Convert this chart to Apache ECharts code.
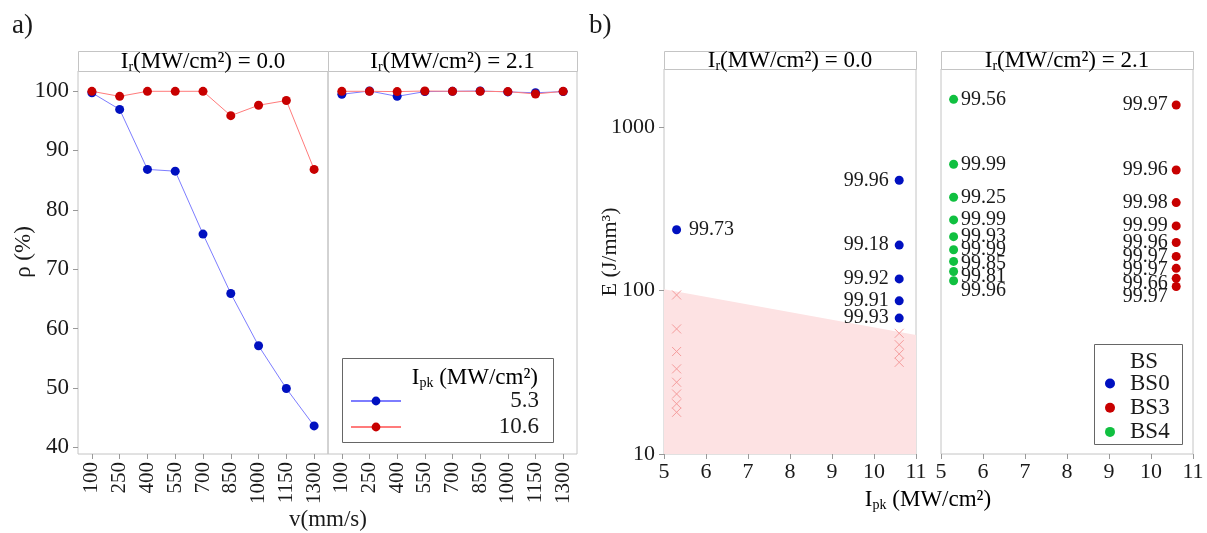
<!DOCTYPE html>
<html>
<head>
<meta charset="utf-8">
<script src="https://cdn.jsdelivr.net/npm/echarts@6/dist/echarts.min.js"></script>
<style>
html,body{margin:0;padding:0;background:#fff;}
#chart{width:1207px;height:533px;}
</style>
</head>
<body>
<div id="chart"></div>
<script>
// ---------- DATA ----------
// Panel a)
var speeds = ['100','250','400','550','700','850','1000','1150','1300'];
var rhoIr0_53  = [99.7, 96.9, 86.8, 86.5, 75.9, 65.9, 57.1, 49.9, 43.6];
var rhoIr0_106 = [99.95, 99.1, 99.95, 99.95, 99.95, 95.85, 97.6, 98.4, 86.8];
var rhoIr21_53  = [99.45, 100, 99.1, 99.9, 99.95, 100, 99.85, 99.7, 99.9];
var rhoIr21_106 = [99.95, 99.95, 99.9, 100, 99.95, 99.95, 99.9, 99.5, 99.95];
var yTicksA = [40, 50, 60, 70, 80, 90, 100];

// Panel b)
var bs0Ipk = [5.3, 10.6, 10.6, 10.6, 10.6, 10.6];
var bs0E   = [236, 474, 190, 118, 86.6, 67.9];
var bs0Rho = ['99.73', '99.96', '99.18', '99.92', '99.91', '99.93'];

var bs4Ipk = [5.3, 5.3, 5.3, 5.3, 5.3, 5.3, 5.3, 5.3, 5.3];
var bs4E   = [1483, 594, 373, 271, 214, 178, 151, 131, 115];
var bs4Rho = ['99.56', '99.99', '99.25', '99.99', '99.93', '99.99', '99.85', '99.81', '99.96'];

var bs3Ipk = [10.6, 10.6, 10.6, 10.6, 10.6, 10.6, 10.6, 10.6, 10.6];
var bs3E   = [1369, 548, 346, 249, 197, 162, 137, 119, 106];
var bs3Rho = ['99.97', '99.96', '99.98', '99.99', '99.96', '99.97', '99.97', '99.66', '99.97'];

// failed (porous) samples, Ir = 0.0
var failIpk = [5.3, 5.3, 5.3, 5.3, 5.3, 5.3, 5.3, 5.3, 10.6, 10.6, 10.6, 10.6];
var failE   = [94.1, 58.3, 42.4, 33.2, 27.5, 23.3, 20.3, 18.0, 54.8, 46.7, 41.0, 36.4];

// shaded boundary region
var bandIpk = [5, 11];
var bandE   = [102, 53.6];

// ---------- STYLE ----------
var FF = "'Liberation Serif', 'Times New Roman', serif";
var TXT = '#1a1a1a';
var FRAME = '#c4c4c4';
var BLUE = '#0010c0', BLUE_L = '#7d7dff';
var RED = '#c80000', RED_L = '#ff7b7b';
var GREEN = '#10c040';
var CROSS = '#f59c9c';

var chart = echarts.init(document.getElementById('chart'), null, {renderer: 'canvas'});

function gridA(left, width) { return {left: left, top: 71, width: width, height: 383, show: true, borderColor: FRAME, borderWidth: 1, backgroundColor: 'transparent'}; }
function gridB(left, width) { return {left: left, top: 69, width: width, height: 385, show: true, borderColor: FRAME, borderWidth: 1, backgroundColor: 'transparent'}; }

function catAxis(gi) {
  return {
    type: 'category', gridIndex: gi, data: speeds, boundaryGap: true,
    axisLine: {show: false},
    axisTick: {show: true, alignWithLabel: true, length: 5, lineStyle: {color: '#999'}},
    axisLabel: {rotate: 90, margin: 8, interval: 0, fontFamily: FF, fontSize: 21, color: TXT},
    splitLine: {show: false}
  };
}
function yAxisA(gi, showLab) {
  return {
    type: 'value', gridIndex: gi, min: 38.87, max: 103.37,
    axisLine: {show: false},
    axisTick: {show: showLab, length: 5, lineStyle: {color: '#999'}, customValues: yTicksA},
    axisLabel: {show: showLab, margin: 9, fontFamily: FF, fontSize: 23, color: TXT, customValues: yTicksA},
    splitLine: {show: false}
  };
}
function xAxisB(gi) {
  return {
    type: 'value', gridIndex: gi, min: 5, max: 11, interval: 1,
    axisLine: {show: false},
    axisTick: {show: true, length: 5, lineStyle: {color: '#999'}},
    axisLabel: {margin: 7, fontFamily: FF, fontSize: 22, color: TXT, showMinLabel: true, showMaxLabel: true},
    splitLine: {show: false}
  };
}
function yAxisB(gi, showLab) {
  return {
    type: 'log', logBase: 10, gridIndex: gi, min: 10, max: 2275,
    axisLine: {show: false},
    axisTick: {show: showLab, length: 5, lineStyle: {color: '#999'}},
    axisLabel: {show: showLab, margin: 9, fontFamily: FF, fontSize: 22, color: TXT, showMaxLabel: false,
                formatter: function (v) { return String(Math.round(v)); }},
    splitLine: {show: false}
  };
}

function lineSeries(name, gi, data, lc, dc) {
  return {
    type: 'line', name: name, xAxisIndex: gi, yAxisIndex: gi, data: data,
    symbol: 'circle', symbolSize: 9, showSymbol: true,
    lineStyle: {color: lc, width: 1}, itemStyle: {color: dc, opacity: 1},
    emphasis: {disabled: true}
  };
}

function zipPts(xs, ys, labels, posFn, dist) {
  return xs.map(function (x, i) {
    var it = {value: [x, ys[i]]};
    if (labels) {
      it.rho = labels[i];
      it.label = {position: posFn(x), distance: dist(x), offset: [0, 0]};
    }
    return it;
  });
}

var sub = function (main, s, rest) {
  return '{m|' + main + '}{s|' + s + '}{m|' + rest + '}';
};
function richT(size) {
  return {
    m: {fontFamily: FF, fontSize: size, lineHeight: size + 2, color: TXT},
    s: {fontFamily: FF, fontSize: Math.round(size * 0.62), lineHeight: 12, verticalAlign: 'bottom', color: TXT}
  };
}

function strip(x1, x2, y1, y2, text) {
  return [
    {type: 'rect', shape: {x: x1 + 0.5, y: y1 + 0.5, width: x2 - x1, height: y2 - y1},
     style: {fill: '#fff', stroke: FRAME, lineWidth: 1}, silent: true, z: 10},
    {type: 'text', x: (x1 + x2) / 2, y: (y1 + y2) / 2 + 1, z: 11, silent: true,
     style: {text: text, rich: richT(23), align: 'center', verticalAlign: 'middle'}}
  ];
}

var labelFmt = function (p) { return p.data.rho; };
var labelStyle = {show: true, fontFamily: FF, fontSize: 20, color: TXT, formatter: labelFmt};

var graphics = [];
graphics = graphics.concat(strip(78, 328, 51, 71, sub('I', 'r', '(MW/cm²) = 0.0')));
graphics = graphics.concat(strip(328, 577, 51, 71, sub('I', 'r', '(MW/cm²) = 2.1')));
graphics = graphics.concat(strip(664, 916, 51, 69, sub('I', 'r', '(MW/cm²) = 0.0')));
graphics = graphics.concat(strip(941, 1193, 51, 69, sub('I', 'r', '(MW/cm²) = 2.1')));
graphics.push(
  {type: 'text', x: 12, y: 26, style: {text: 'a)', fontFamily: FF, fontSize: 27, fill: TXT, verticalAlign: 'middle'}},
  {type: 'text', x: 589, y: 26, style: {text: 'b)', fontFamily: FF, fontSize: 27, fill: TXT, verticalAlign: 'middle'}},
  {type: 'text', x: 24, y: 252, rotation: Math.PI / 2,
   style: {text: 'ρ (%)', fontFamily: FF, fontSize: 23, fill: TXT, align: 'center', verticalAlign: 'middle'}},
  {type: 'text', x: 328, y: 520,
   style: {text: 'v(mm/s)', fontFamily: FF, fontSize: 23, fill: TXT, align: 'center', verticalAlign: 'middle'}},
  {type: 'text', x: 610, y: 252, rotation: Math.PI / 2,
   style: {text: 'E (J/mm³)', fontFamily: FF, fontSize: 22, fill: TXT, align: 'center', verticalAlign: 'middle'}},
  {type: 'text', x: 928, y: 500,
   style: {text: sub('I', 'pk', ' (MW/cm²)'), rich: richT(23), align: 'center', verticalAlign: 'middle'}},
  // legend a box + title
  {type: 'rect', shape: {x: 342.5, y: 358.5, width: 211, height: 84}, style: {fill: '#fff', stroke: '#666', lineWidth: 1}, z: 20},
  {type: 'text', x: 538, y: 378, z: 21,
   style: {text: sub('I', 'pk', ' (MW/cm²)'), rich: richT(23), align: 'right', verticalAlign: 'middle'}},
  // legend b box + title
  {type: 'rect', shape: {x: 1094.5, y: 344.5, width: 88, height: 100}, style: {fill: '#fff', stroke: '#666', lineWidth: 1}, z: 20},
  {type: 'text', x: 1130, y: 362, z: 21,
   style: {text: 'BS', fontFamily: FF, fontSize: 23, fill: TXT, verticalAlign: 'middle'}}
);

var option = {
  animation: false,
  backgroundColor: '#fff',
  textStyle: {fontFamily: FF},
  grid: [gridA(78, 250), gridA(328, 249), gridB(664, 252), gridB(941, 252)],
  xAxis: [catAxis(0), catAxis(1), xAxisB(2), xAxisB(3)],
  yAxis: [yAxisA(0, true), yAxisA(1, false), yAxisB(2, true), yAxisB(3, false)],
  legend: [
    {
      orient: 'vertical', left: 350, top: 389.5, padding: 0, itemWidth: 50, itemHeight: 11, itemGap: 3, z: 30,
      data: ['5.3', '10.6'], selectedMode: false,
      formatter: function (n) { return '{r|' + n + '}'; },
      textStyle: {fontFamily: FF, fontSize: 23, color: TXT,
                  rich: {r: {fontFamily: FF, fontSize: 23, lineHeight: 20, width: 133, align: 'right', color: TXT}}}
    },
    {
      orient: 'vertical', left: 1105, top: 372, padding: 0, itemWidth: 10, itemHeight: 10, itemGap: 1.2, z: 30,
      icon: 'circle', data: ['BS0', 'BS3', 'BS4'], selectedMode: false,
      formatter: function (n) { return '{r|' + n + '}'; },
      textStyle: {fontFamily: FF, fontSize: 23, color: TXT,
                  rich: {r: {fontFamily: FF, fontSize: 23, lineHeight: 20, padding: [0, 0, 0, 10], color: TXT}}}
    }
  ],
  graphic: graphics,
  series: [
    lineSeries('5.3', 0, rhoIr0_53, BLUE_L, BLUE),
    lineSeries('10.6', 0, rhoIr0_106, RED_L, RED),
    lineSeries('5.3', 1, rhoIr21_53, BLUE_L, BLUE),
    lineSeries('10.6', 1, rhoIr21_106, RED_L, RED),
    {
      type: 'line', name: 'band', xAxisIndex: 2, yAxisIndex: 2,
      data: bandIpk.map(function (x, i) { return [x, bandE[i]]; }),
      symbol: 'none', lineStyle: {width: 0, color: '#fde2e3'},
      areaStyle: {color: '#fde2e3', opacity: 1, origin: 10}, silent: true, z: 1
    },
    {
      type: 'scatter', name: 'fail', xAxisIndex: 2, yAxisIndex: 2,
      data: failIpk.map(function (x, i) { return [x, failE[i]]; }),
      symbol: 'path://M0,0L10,10M10,0L0,10', symbolSize: 9,
      itemStyle: {color: 'none', borderColor: CROSS, borderWidth: 1, opacity: 1}, silent: true, z: 2
    },
    {
      id: 'bs0', type: 'scatter', name: 'BS0', xAxisIndex: 2, yAxisIndex: 2, symbolSize: 9,
      itemStyle: {color: BLUE, opacity: 1}, label: labelStyle, z: 3,
      data: zipPts(bs0Ipk, bs0E, bs0Rho, function (x) { return x < 8 ? 'right' : 'left'; },
                   function (x) { return x < 8 ? 8 : 6; })
    },
    {
      id: 'bs3', type: 'scatter', name: 'BS3', xAxisIndex: 3, yAxisIndex: 3, symbolSize: 9,
      itemStyle: {color: RED, opacity: 1}, label: labelStyle, z: 3,
      data: zipPts(bs3Ipk, bs3E, bs3Rho, function () { return 'left'; }, function () { return 4; })
    },
    {
      id: 'bs4', type: 'scatter', name: 'BS4', xAxisIndex: 3, yAxisIndex: 3, symbolSize: 9,
      itemStyle: {color: GREEN, opacity: 1}, label: labelStyle, z: 3,
      data: zipPts(bs4Ipk, bs4E, bs4Rho, function () { return 'right'; }, function () { return 3; })
    }
  ]
};

chart.setOption(option);

// simple label repel: push overlapping labels downward within each column
var GAP = 13.5;
function repel(seriesId, xs, ys, labels, posFn, dist) {
  var px = xs.map(function (x, i) { return chart.convertToPixel({seriesId: seriesId}, [x, ys[i]]); });
  var groups = {};
  xs.forEach(function (x, i) { (groups[x] = groups[x] || []).push(i); });
  var offs = xs.map(function () { return 0; });
  Object.keys(groups).forEach(function (k) {
    var idx = groups[k].slice().sort(function (a, b) { return px[a][1] - px[b][1]; });
    var last = -Infinity;
    idx.forEach(function (i) {
      var y = Math.max(px[i][1], last + GAP);
      offs[i] = y - px[i][1];
      last = y;
    });
  });
  var data = zipPts(xs, ys, labels, posFn, dist);
  data.forEach(function (d, i) { d.label.offset = [0, offs[i]]; });
  return {id: seriesId, data: data};
}
chart.setOption({
  series: [
    repel('bs0', bs0Ipk, bs0E, bs0Rho, function (x) { return x < 8 ? 'right' : 'left'; }, function (x) { return x < 8 ? 8 : 6; }),
    repel('bs3', bs3Ipk, bs3E, bs3Rho, function () { return 'left'; }, function () { return 4; }),
    repel('bs4', bs4Ipk, bs4E, bs4Rho, function () { return 'right'; }, function () { return 3; })
  ]
});
</script>
</body>
</html>
